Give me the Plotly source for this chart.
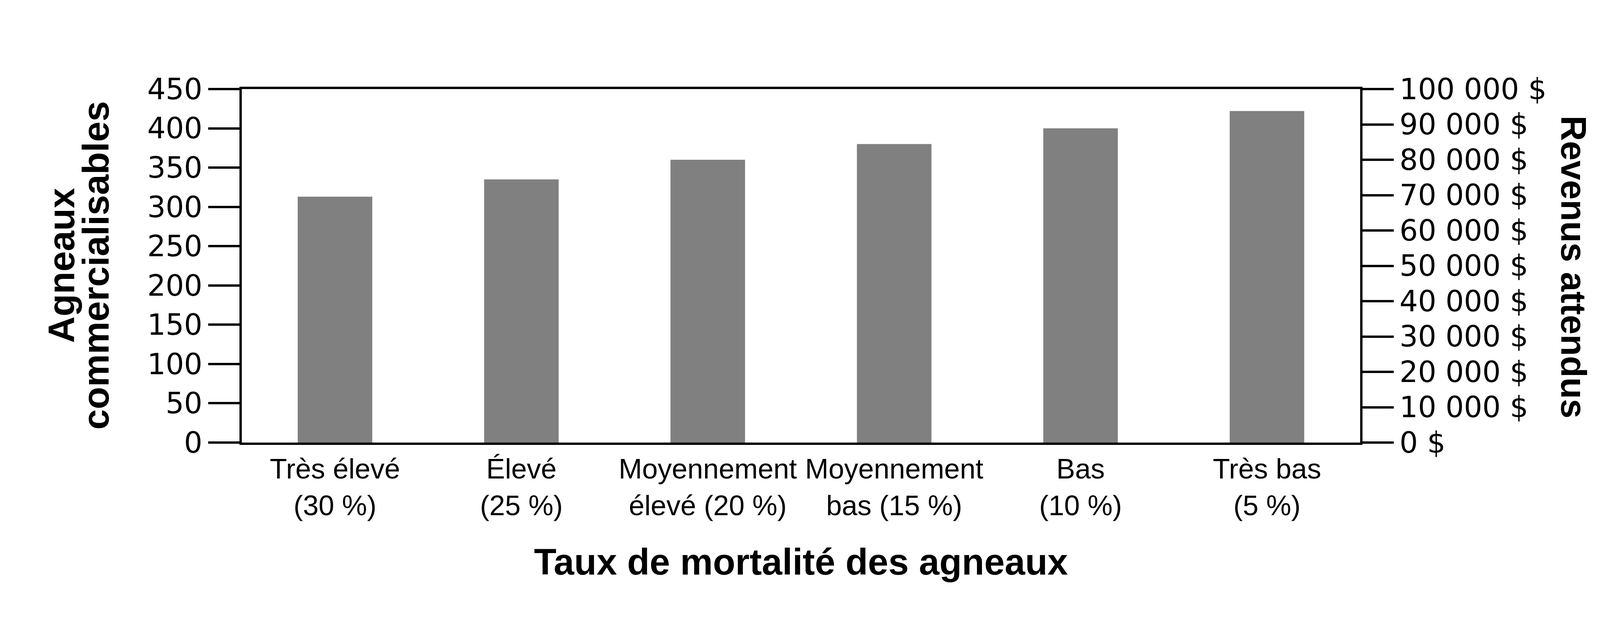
import plotly.graph_objects as go

# data
categories = ["Très élevé<br>(30 %)", "Élevé<br>(25 %)", "Moyennement<br>élevé (20 %)",
              "Moyennement<br>bas (15 %)", "Bas<br>(10 %)", "Très bas<br>(5 %)"]
lambs = [313, 335, 360, 380, 400, 422]

lamb_ticks = [0, 50, 100, 150, 200, 250, 300, 350, 400, 450]
revenue_ticks = [0, 10000, 20000, 30000, 40000, 50000, 60000, 70000, 80000, 90000, 100000]
revenue_labels = ["0 $", "10 000 $", "20 000 $", "30 000 $", "40 000 $", "50 000 $",
                  "60 000 $", "70 000 $", "80 000 $", "90 000 $", "100 000 $"]

W, H = 4200, 1618
L, R, T, B = 611, 726, 220, 493
pw = W - L - R
ph = H - T - B

def px_x(p):
    return (p - L) / pw

def px_y(p):
    return (H - B - p) / ph

fig = go.Figure()
fig.add_trace(go.Bar(x=categories, y=lambs, marker_color="#808080",
                     marker_line_width=0, hoverinfo="skip"))
# invisible trace so the revenue axis gets drawn
fig.add_trace(go.Scatter(x=[categories[0]], y=[revenue_ticks[0]], yaxis="y2",
                         mode="markers", marker_opacity=0, hoverinfo="skip"))

tickfont_num = dict(family="DejaVu Sans", size=74, color="black")

fig.update_layout(
    width=W, height=H, autosize=False,
    margin=dict(l=L, r=R, t=T, b=B, pad=0),
    paper_bgcolor="white", plot_bgcolor="white",
    showlegend=False, bargap=0.6,
    xaxis=dict(showline=True, linewidth=6, linecolor="black", mirror=True,
               ticks="", showgrid=False, range=[-0.5, 5.5], tickangle=0,
               tickfont=dict(family="Liberation Sans", size=72, color="black")),
    yaxis=dict(range=[0, 450], tickvals=lamb_ticks, showline=True, linewidth=6,
               linecolor="black", ticks="outside", ticklen=80, tickwidth=6,
               tickcolor="black", showgrid=False, zeroline=False,
               tickfont=tickfont_num),
    yaxis2=dict(range=[0, 100000], overlaying="y", side="right",
                tickvals=revenue_ticks, ticktext=revenue_labels, showline=True,
                linewidth=6, linecolor="black", ticks="outside", ticklen=80,
                tickwidth=6, tickcolor="black", showgrid=False, zeroline=False,
                tickfont=tickfont_num),
)

title_font = dict(family="Liberation Sans", size=94, color="black")
fig.add_annotation(text="<b>Taux de mortalité des agneaux</b>", xref="paper", yref="paper",
                   x=px_x(2042), y=px_y(1430), showarrow=False, font=title_font,
                   xanchor="center", yanchor="middle")
fig.add_annotation(text="<b>Agneaux</b>", xref="paper", yref="paper",
                   x=px_x(149), y=px_y(672), showarrow=False, font=title_font,
                   textangle=-90, xanchor="center", yanchor="middle")
fig.add_annotation(text="<b>commercialisables</b>", xref="paper", yref="paper",
                   x=px_x(237), y=px_y(672), showarrow=False, font=title_font,
                   textangle=-90, xanchor="center", yanchor="middle")
fig.add_annotation(text="<b>Revenus attendus</b>", xref="paper", yref="paper",
                   x=px_x(4020), y=px_y(675), showarrow=False,
                   font=dict(family="Liberation Sans", size=90, color="black"),
                   textangle=90, xanchor="center", yanchor="middle")

fig.write_html("out.html")
